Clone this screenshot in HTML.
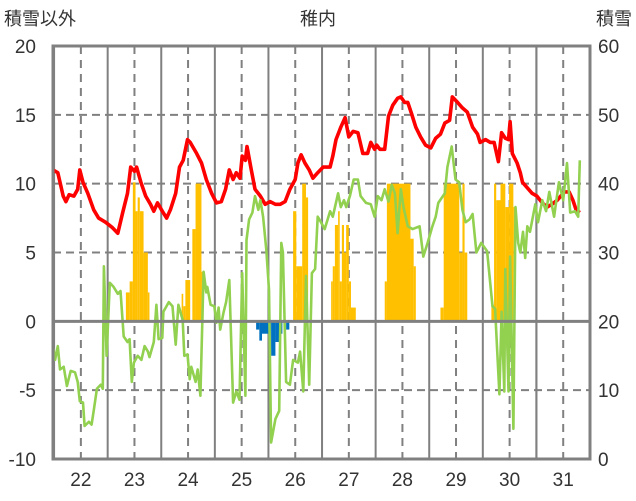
<!DOCTYPE html>
<html><head><meta charset="utf-8"><style>
body{margin:0;background:#fff}
svg{display:block;font-family:"Liberation Sans","Noto Sans CJK JP",sans-serif}
</style></head><body>
<svg id="chart" width="636" height="501" viewBox="0 0 636 501" xmlns="http://www.w3.org/2000/svg">
<text x="4" y="25" font-size="18" fill="#333">積雪以外</text>
<text x="318" y="25" font-size="18" fill="#333" text-anchor="middle">稚内</text>
<text x="632" y="25" font-size="18" fill="#333" text-anchor="end">積雪</text>
<g id="grid"></g>
<g id="bars"></g>
<g id="lines"></g>
<g id="axes"></g>
</svg>
<script>
const leftTicks=[20,15,10,5,0,-5,-10];
const rightTicks=[60,50,40,30,20,10,0];
const xTicks=[22,23,24,25,26,27,28,29,30,31];
const redX=[21.48,21.57,21.67,21.72,21.78,21.87,21.94,21.98,22.04,22.13,22.24,22.33,22.46,22.59,22.69,22.78,22.87,22.93,23.00,23.04,23.12,23.21,23.30,23.36,23.43,23.52,23.60,23.67,23.77,23.84,23.91,23.99,24.04,24.16,24.25,24.34,24.44,24.53,24.62,24.70,24.77,24.84,24.90,24.97,25.01,25.07,25.10,25.18,25.25,25.35,25.44,25.53,25.63,25.72,25.81,25.90,26.00,26.05,26.11,26.18,26.26,26.33,26.42,26.52,26.65,26.70,26.76,26.85,26.93,27.00,27.08,27.17,27.26,27.35,27.41,27.48,27.52,27.58,27.67,27.74,27.82,27.91,27.97,28.04,28.10,28.17,28.25,28.34,28.43,28.53,28.62,28.71,28.79,28.88,28.93,29.03,29.12,29.21,29.31,29.40,29.45,29.55,29.64,29.71,29.79,29.85,29.92,29.98,30.01,30.05,30.14,30.20,30.24,30.33,30.42,30.51,30.61,30.70,30.79,30.89,31.02,31.11,31.18,31.24,31.31];
const redY=[11.0,10.8,9.1,8.7,9.2,9.1,9.6,11.0,10.1,9.3,8.1,7.5,7.2,6.8,6.4,7.9,9.3,11.2,10.9,11.2,10.1,9.1,8.5,8.0,8.6,8.0,7.5,8.1,9.3,11.2,11.7,13.2,13.0,12.2,11.5,10.3,9.3,8.6,8.7,9.6,11.0,10.3,10.8,10.4,12.0,11.7,12.7,11.0,9.6,9.1,8.5,8.7,8.5,8.5,8.7,9.6,10.3,11.5,12.1,11.5,11.0,10.4,10.8,11.2,11.2,12.0,13.2,14.1,14.8,13.4,13.8,13.7,12.2,12.2,13.0,12.5,12.8,12.5,12.5,14.9,15.7,16.2,16.3,15.9,15.9,15.1,14.1,13.4,12.8,12.6,13.3,13.6,14.4,14.6,16.3,15.9,15.5,15.2,14.1,13.6,13.0,13.2,13.0,13.0,11.6,13.7,13.3,13.2,14.5,12.2,11.5,10.8,10.1,9.7,9.3,9.1,8.6,8.3,8.5,8.8,9.4,9.4,8.8,8.1,7.9];
const greenX=[21.48,21.52,21.57,21.61,21.68,21.74,21.81,21.89,21.94,21.98,22.04,22.07,22.15,22.20,22.24,22.30,22.37,22.41,22.43,22.48,22.54,22.61,22.69,22.74,22.80,22.87,22.91,22.95,22.99,23.06,23.13,23.19,23.25,23.28,23.36,23.41,23.45,23.52,23.54,23.64,23.71,23.77,23.82,23.90,23.93,23.99,24.03,24.06,24.14,24.18,24.23,24.29,24.34,24.36,24.42,24.49,24.53,24.57,24.60,24.66,24.71,24.77,24.84,24.90,24.96,25.01,25.07,25.09,25.14,25.20,25.25,25.31,25.35,25.40,25.46,25.51,25.55,25.63,25.70,25.74,25.77,25.83,25.90,25.96,26.05,26.09,26.15,26.20,26.26,26.31,26.37,26.42,26.48,26.55,26.65,26.70,26.80,26.85,26.91,26.95,27.02,27.09,27.17,27.22,27.32,27.41,27.48,27.54,27.61,27.67,27.74,27.80,27.86,27.91,27.97,28.02,28.10,28.19,28.32,28.39,28.47,28.56,28.62,28.67,28.79,28.84,28.92,28.99,29.06,29.12,29.18,29.25,29.31,29.38,29.47,29.58,29.68,29.73,29.81,29.85,29.90,29.92,29.98,30.01,30.07,30.11,30.16,30.20,30.25,30.29,30.33,30.38,30.48,30.53,30.61,30.68,30.74,30.83,30.92,31.00,31.07,31.13,31.22,31.28,31.31];
const greenY=[-1.8,-2.8,-1.8,-3.5,-3.3,-4.7,-3.6,-3.7,-4.4,-5.8,-5.9,-7.6,-7.3,-7.5,-6.5,-4.9,-4.6,-4.9,4.0,-2.5,2.8,2.5,2.0,2.2,-1.1,-1.5,-1.3,-4.4,-3.0,-2.5,-2.8,-1.8,-2.2,-2.6,-1.5,1.2,-1.3,-1.2,0.7,1.4,1.1,-1.7,1.2,0.1,-2.5,-2.4,-4.2,-3.3,-4.4,-3.5,-5.4,3.6,2.1,2.5,1.2,1.1,-0.1,1.0,-0.6,0.6,1.4,3.0,-5.9,-5.1,-5.7,3.5,-5.4,5.9,7.4,7.9,9.1,8.1,8.8,7.6,5.2,2.3,-8.8,-7.1,-6.5,5.7,5.0,-4.4,-4.6,-2.8,-3.0,-2.2,-5.1,3.3,-4.6,3.5,3.8,7.6,7.2,6.7,8.0,7.6,9.3,8.3,8.8,8.3,9.1,10.3,10.3,9.1,8.6,8.5,7.6,9.1,8.8,9.6,8.7,9.9,9.3,6.4,9.6,8.3,6.9,6.7,6.9,4.7,5.7,6.9,7.6,8.6,9.3,11.2,12.7,10.3,10.1,8.1,7.2,7.4,7.8,5.0,5.7,5.1,1.1,0.9,-5.3,0.7,-5.1,3.8,-5.1,4.7,-7.8,8.3,5.7,5.0,6.5,4.6,6.9,6.5,8.5,7.2,8.8,8.0,9.4,7.6,10.1,8.8,11.5,7.9,8.0,7.6,11.7];
const barStart=[22.84,22.91,22.97,23.02,23.06,23.10,23.17,23.25,23.88,23.91,23.95,24.08,24.14,24.25,25.27,25.33,25.38,25.51,25.55,25.63,25.70,25.83,25.96,26.02,26.13,26.20,26.67,26.70,26.74,26.80,26.83,26.87,26.91,26.95,27.00,27.04,27.67,27.71,28.15,28.21,28.71,28.77,29.06,29.12,29.16,29.66,29.71,29.75,29.83,29.92,29.99,30.07];
const barEnd=[22.91,22.97,23.02,23.06,23.10,23.17,23.25,23.28,23.91,23.95,24.04,24.14,24.25,24.29,25.33,25.38,25.51,25.55,25.63,25.70,25.76,25.89,26.02,26.13,26.20,26.24,26.70,26.74,26.80,26.83,26.87,26.91,26.95,27.00,27.04,27.13,27.71,28.15,28.21,28.25,28.77,29.06,29.12,29.16,29.21,29.71,29.75,29.83,29.92,29.99,30.07,30.11];
const barVal=[24.2,25.8,40.2,36,38,36,30,24.2,24,22.2,26,33.4,40,27.2,18.8,17.2,18.2,16,15,17,18.2,18.8,36,28,40,38,25.8,28,34,36,25.8,34,30,34,25.8,22,25.8,40,32,28,22,40,30,40,30,22.4,40,37.6,40,36.6,40,36.6];

const L=53,R=590,T=46,B=459;
const X0=21.48,X1=31.5;
function xs(d){return L+(d-X0)/(X1-X0)*(R-L);}
function ys(v){return T+(20-v)/30*(B-T);}
function yr(v){return T+(60-v)/60*(B-T);}
const NS='http://www.w3.org/2000/svg';
function mk(tag,parent,attrs){const e=document.createElementNS(NS,tag);for(const k in attrs)e.setAttribute(k,attrs[k]);parent.appendChild(e);return e;}
const grid=document.getElementById('grid'),bars=document.getElementById('bars'),lines=document.getElementById('lines'),axes=document.getElementById('axes');

leftTicks.forEach(v=>{
  if(v!==0&&v!==20&&v!==-10){
    const g=mk('line',grid,{x1:L,x2:R,y1:ys(v),y2:ys(v),stroke:'#808080','stroke-width':2,'stroke-dasharray':'8,5'});
    
    
  }
  const t=mk('text',axes,{x:36,y:ys(v)+7,'font-size':19,fill:'#333','text-anchor':'end'});
  
  
  t.textContent=v;
});
rightTicks.forEach(v=>{
  const t=mk('text',axes,{x:598,y:yr(v)+7,'font-size':19,fill:'#333'});
  
  
  t.textContent=v;
});
xTicks.forEach(d=>{
  const g=mk('line',grid,{x1:xs(d),x2:xs(d),y1:T,y2:B,stroke:'#808080','stroke-width':2,'stroke-dasharray':'8,6'});
  
  
  const h=mk('line',grid,{x1:xs(d-0.5),x2:xs(d-0.5),y1:T,y2:B,stroke:'#808080','stroke-width':2});
  
  
  const t=mk('text',axes,{x:xs(d),y:486,'font-size':19,fill:'#333','text-anchor':'middle'});
  
  
  t.textContent=d;
});
{const h=mk('line',grid,{x1:xs(30.5),x2:xs(30.5),y1:T,y2:B,stroke:'#808080','stroke-width':2});

}

barVal.forEach((v,i)=>{
  const x=xs(barStart[i]),w=xs(barEnd[i])-x;
  const y0=yr(20),y1=yr(v);
  const r=mk('rect',bars,{x:x,width:Math.max(w,0.5),y:Math.min(y0,y1),height:Math.abs(y1-y0),fill:v>=20?'#FFC000':'#0070C0'});
  
  
});

function path(xa,ya,color,w,name){
  const d=xa.map((x,i)=>(i?'L':'M')+xs(x).toFixed(1)+','+ys(ya[i]).toFixed(1)).join('');
  const p=mk('path',lines,{d:d,fill:'none',stroke:color,'stroke-width':w,'stroke-linejoin':'round'});
  
  
}
path(redX,redY,'#FF0000',3.6,'red-series-line');
path(greenX,greenY,'#92D050',2.6,'green-series-line');

{const z=mk('line',axes,{x1:L,x2:R,y1:ys(0),y2:ys(0),stroke:'#808080','stroke-width':3});


const b=mk('rect',axes,{x:L,y:T,width:R-L,height:B-T,fill:'none',stroke:'#808080','stroke-width':3});

}
</script>
</body></html>
